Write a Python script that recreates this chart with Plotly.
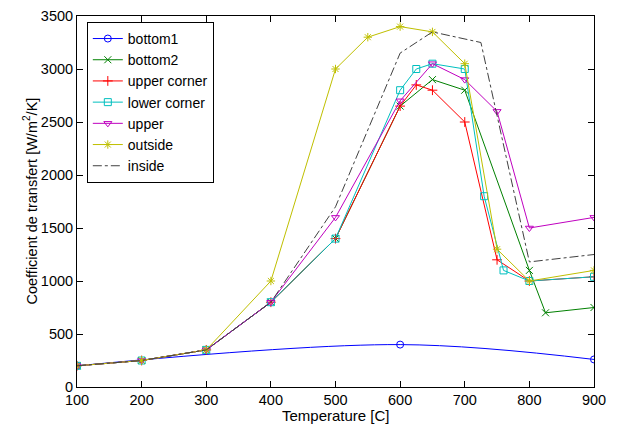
import plotly.graph_objects as go

# Heat transfer coefficient vs temperature for each zone
bottom1_T = [100, 600, 900]
bottom1_h = [200, 400, 260]

bottom2_T = [100, 200, 300, 400, 500, 600, 650, 700, 800, 825, 900]
bottom2_h = [200, 250, 350, 800, 1400, 2650, 2900, 2800, 1100, 700, 750]

upper_corner_T = [100, 200, 300, 400, 500, 600, 625, 650, 700, 750, 800, 900]
upper_corner_h = [200, 250, 350, 800, 1400, 2650, 2850, 2800, 2500, 1200, 1000, 1040]

lower_corner_T = [100, 200, 300, 400, 500, 600, 625, 650, 700, 730, 760, 800, 900]
lower_corner_h = [200, 250, 350, 800, 1400, 2800, 3000, 3050, 3000, 1800, 1100, 1000, 1040]

upper_T = [100, 200, 300, 400, 500, 600, 650, 700, 750, 800, 900]
upper_h = [200, 250, 350, 800, 1600, 2700, 3050, 2900, 2600, 1500, 1600]

outside_T = [100, 200, 300, 400, 500, 550, 600, 650, 700, 750, 800, 900]
outside_h = [200, 250, 350, 1000, 3000, 3300, 3400, 3350, 3050, 1300, 1000, 1100]

inside_T = [100, 200, 300, 400, 500, 600, 650, 725, 800, 900]
inside_h = [200, 250, 350, 800, 1700, 3150, 3350, 3250, 1180, 1250]

x_ticks = [100, 200, 300, 400, 500, 600, 700, 800, 900]
y_ticks = [0, 500, 1000, 1500, 2000, 2500, 3000, 3500]

x_title = "Temperature [C]"
y_title = "Coefficient de transfert [W/m<sup>2</sup>/K]"

FONT = "Liberation Sans, Arial, sans-serif"

series = [
    ("bottom1", bottom1_T, bottom1_h, "#0000ff", "circle-open", "solid"),
    ("bottom2", bottom2_T, bottom2_h, "#008000", "x-thin-open", "solid"),
    ("upper corner", upper_corner_T, upper_corner_h, "#ff0000", "cross-thin-open", "solid"),
    ("lower corner", lower_corner_T, lower_corner_h, "#00bfbf", "square-open", "solid"),
    ("upper", upper_T, upper_h, "#bf00bf", "triangle-down-open", "solid"),
    ("outside", outside_T, outside_h, "#bfbf00", "asterisk-open", "solid"),
    ("inside", inside_T, inside_h, "#404040", None, "dashdot"),
]

fig = go.Figure()
for name, xs, ys, color, symbol, dash in series:
    line = dict(color=color, width=1, dash=dash)
    if name == "bottom1":
        line["shape"] = "spline"
    if symbol is None:
        fig.add_trace(go.Scatter(x=xs, y=ys, name=name, mode="lines", line=line))
    else:
        fig.add_trace(go.Scatter(
            x=xs, y=ys, name=name, mode="lines+markers", line=line,
            marker=dict(symbol=symbol, size=7, color=color,
                        line=dict(color=color, width=1)),
        ))

axis_common = dict(
    showgrid=False, zeroline=False, showline=True, linecolor="black",
    linewidth=1, mirror="ticks", ticks="inside", ticklen=6, automargin=False,
    tickcolor="black", tickfont=dict(family=FONT, size=14.5, color="black"),
)

plot_w = 617 - 77 - 23
plot_h = 428 - 16 - 41

fig.update_layout(
    width=617, height=428,
    margin=dict(l=77, r=23, t=16, b=41),
    paper_bgcolor="white", plot_bgcolor="white",
    font=dict(family=FONT, size=14, color="black"),
    xaxis=dict(range=[100, 900], tickvals=x_ticks, **axis_common),
    yaxis=dict(range=[0, 3500], tickvals=y_ticks, **axis_common),
    legend=dict(x=0.019, y=0.984, xanchor="left", yanchor="top",
                bgcolor="white", bordercolor="black", borderwidth=1,
                font=dict(family=FONT, size=14), tracegroupgap=0),
    showlegend=True,
    annotations=[
        dict(text=x_title, xref="paper", yref="paper", x=0.5,
             y=-29 / plot_h, xanchor="center", yanchor="middle",
             showarrow=False, font=dict(family=FONT, size=15)),
        dict(text=y_title, xref="paper", yref="paper", x=-47 / plot_w,
             y=0.5, xanchor="center", yanchor="middle", textangle=-90,
             showarrow=False, font=dict(family=FONT, size=14.5)),
    ],
)

fig.write_html("out.html")
